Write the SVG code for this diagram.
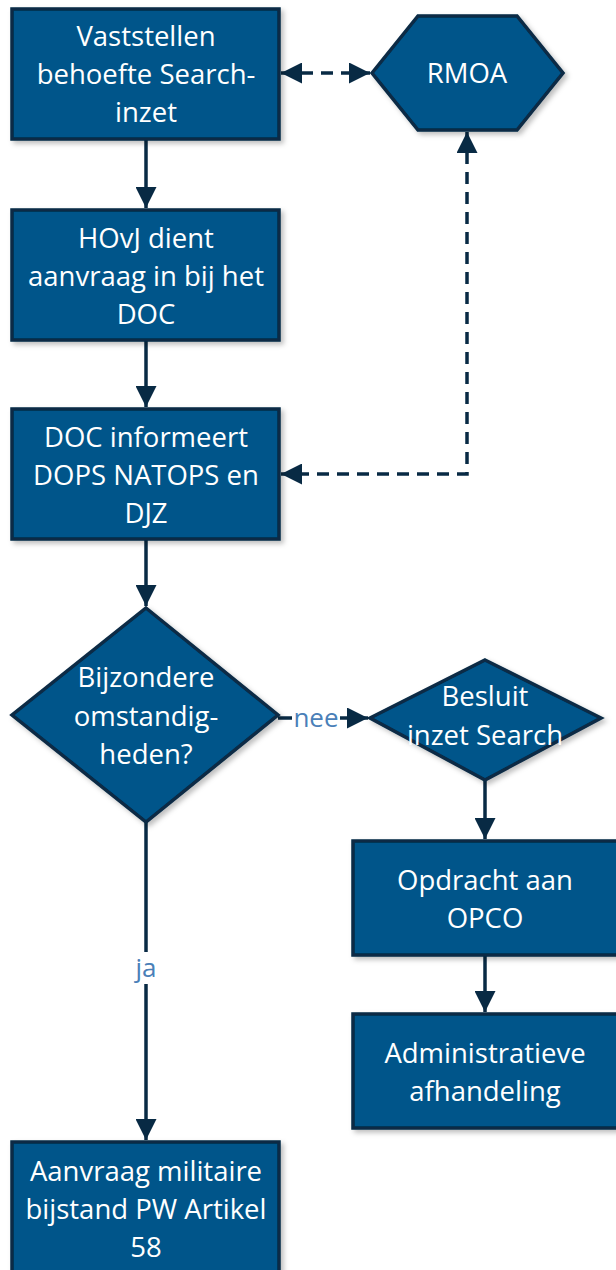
<svg xmlns="http://www.w3.org/2000/svg" width="616" height="1270" viewBox="0 0 616 1270">
<style>
.n{fill:#01548a;stroke:#082a44;stroke-width:3.5;filter:url(#sh)}
.t{font-family:"Open Sans",Lato,sans-serif;font-size:27.5px;fill:#fff;text-anchor:middle}
.c{fill:none;stroke:#082a44;stroke-width:3.5}
.d{stroke-dasharray:12,8}
.l{font-family:"Open Sans",Lato,sans-serif;font-size:26px;fill:#4a80b8;text-anchor:middle}
</style>
<defs>
<filter id="sh" x="-10%" y="-10%" width="130%" height="130%"><feDropShadow dx="3" dy="3" stdDeviation="2.5" flood-color="#000" flood-opacity="0.25"/></filter>
<marker id="a" viewBox="0 0 10 10" refX="10" refY="5" markerWidth="6" markerHeight="6" markerUnits="strokeWidth" orient="auto-start-reverse"><path d="M0,0L10,5L0,10z" fill="#082a44"/></marker>
</defs>
<g id="connectors">
<path class="c" d="M146,139V208" marker-end="url(#a)"/>
<path class="c" d="M146,340V407" marker-end="url(#a)"/>
<path class="c" d="M146,539V606" marker-end="url(#a)"/>
<path class="c" d="M278,718H368" marker-end="url(#a)"/>
<path class="c" d="M485,780V839" marker-end="url(#a)"/>
<path class="c" d="M485,955V1012" marker-end="url(#a)"/>
<path class="c" d="M146,822V1140" marker-end="url(#a)"/>
<path class="c d" d="M281,73H370" marker-start="url(#a)" marker-end="url(#a)"/>
<path class="c d" d="M467,132V474H281" marker-start="url(#a)" marker-end="url(#a)"/>
<rect x="292" y="704" width="48" height="28" fill="#fff"/>
<text class="l" x="316" y="727">nee</text>
<rect x="130" y="952" width="32" height="32" fill="#fff"/>
<text class="l" x="146" y="977">ja</text>
</g>
<g id="vaststellen">
<rect class="n" x="12" y="9" width="267" height="130"/>
<text class="t" x="146" y="46">Vaststellen</text>
<text class="t" x="146" y="84">behoefte Search-</text>
<text class="t" x="146" y="122">inzet</text>
</g>
<g id="rmoa">
<polygon class="n" points="372,73 418,16 517,16 563,73 517,130 418,130"/>
<text class="t" x="467" y="83">RMOA</text>
</g>
<g id="hovj">
<rect class="n" x="12" y="210" width="267" height="130"/>
<text class="t" x="146" y="248">HOvJ dient</text>
<text class="t" x="146" y="286">aanvraag in bij het</text>
<text class="t" x="146" y="324">DOC</text>
</g>
<g id="doc">
<rect class="n" x="12" y="409" width="267" height="130"/>
<text class="t" x="146" y="447">DOC informeert</text>
<text class="t" x="146" y="485">DOPS NATOPS en</text>
<text class="t" x="146" y="523">DJZ</text>
</g>
<g id="bijzondere">
<polygon class="n" points="146,608 278,715 146,822 12,715"/>
<text class="t" x="146" y="687">Bijzondere</text>
<text class="t" x="146" y="726">omstandig-</text>
<text class="t" x="146" y="764">heden?</text>
</g>
<g id="besluit">
<polygon class="n" points="485,660 601,718 485,780 370,718"/>
<text class="t" x="485" y="706">Besluit</text>
<text class="t" x="485" y="745">inzet Search</text>
</g>
<g id="opdracht">
<rect class="n" x="353" y="841" width="270" height="114"/>
<text class="t" x="485" y="890">Opdracht aan</text>
<text class="t" x="485" y="928">OPCO</text>
</g>
<g id="admin">
<rect class="n" x="353" y="1014" width="270" height="114"/>
<text class="t" x="485" y="1063">Administratieve</text>
<text class="t" x="485" y="1101">afhandeling</text>
</g>
<g id="aanvraag">
<rect class="n" x="12" y="1142" width="267" height="140"/>
<text class="t" x="146" y="1181">Aanvraag militaire</text>
<text class="t" x="146" y="1219">bijstand PW Artikel</text>
<text class="t" x="146" y="1257">58</text>
</g>
</svg>
